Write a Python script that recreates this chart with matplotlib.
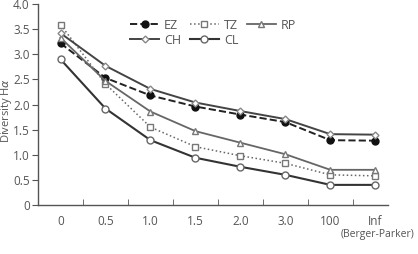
import numpy as np
import matplotlib.pyplot as plt
from matplotlib.ticker import FixedLocator, NullFormatter

plt.rcParams['font.family'] = ['Open Sans', 'DejaVu Sans']

# Data
orders = ["0", "0.5", "1.0", "1.5", "2.0", "3.0", "100", "Inf"]
ez = [3.22, 2.53, 2.18, 1.96, 1.80, 1.65, 1.29, 1.28]
tz = [3.59, 2.41, 1.55, 1.16, 0.98, 0.83, 0.60, 0.58]
rp = [3.33, 2.47, 1.86, 1.47, 1.24, 1.01, 0.70, 0.70]
ch = [3.42, 2.77, 2.31, 2.04, 1.87, 1.71, 1.41, 1.40]
cl = [2.90, 1.92, 1.29, 0.94, 0.76, 0.60, 0.40, 0.40]

grey = '#555555'
x = np.arange(len(orders))

fig = plt.figure(figsize=(4.18, 2.54), dpi=100)
ax = fig.add_axes([0.091, 0.193, 0.837, 0.791])

h_ez, = ax.plot(x, ez, linestyle='--', color='#222222', lw=1.4, marker='o', ms=5,
                mfc='#111111', mec='#111111', label='EZ')
h_tz, = ax.plot(x, tz, linestyle=':', color='#666666', lw=1.1, marker='s', ms=5,
                mfc='white', mec='#777777', label='TZ')
h_rp, = ax.plot(x, rp, linestyle='-', color='#666666', lw=1.3, marker='^', ms=5,
                mfc='white', mec='#777777', label='RP')
h_ch, = ax.plot(x, ch, linestyle='-', color='#444444', lw=1.4, marker='D', ms=3.5,
                mfc='white', mec='#888888', label='CH')
h_cl, = ax.plot(x, cl, linestyle='-', color='#333333', lw=1.5, marker='o', ms=5,
                mfc='white', mec='#666666', label='CL')

ax.set_xlim(-0.5, 7.28)
ax.set_ylim(0, 4.0)
ax.set_yticks([0, 0.5, 1.0, 1.5, 2.0, 2.5, 3.0, 3.5, 4.0])
ax.set_yticklabels(['0', '0.5', '1.0', '1.5', '2.0', '2.5', '3.0', '3.5', '4.0'])
ax.set_xticks(x)
ax.set_xticklabels(orders)
ax.xaxis.set_minor_locator(FixedLocator(np.arange(-0.5, 7, 1.0)))
ax.xaxis.set_minor_formatter(NullFormatter())
ax.tick_params(axis='x', which='major', length=0, pad=7, labelsize=8.5, colors=grey)
ax.tick_params(axis='x', which='minor', direction='in', length=4, color=grey)
ax.tick_params(axis='y', length=4, pad=2, labelsize=8.5, colors=grey)

for s in ['top', 'right']:
    ax.spines[s].set_visible(False)
for s in ['left', 'bottom']:
    ax.spines[s].set_color(grey)
    ax.spines[s].set_linewidth(1.0)

ax.set_ylabel(r'Diversity H$\alpha$', fontsize=8, color=grey, va='center')
ax.yaxis.set_label_coords(-0.09, 0.47)
fig.text(0.902, 0.078, '(Berger-Parker)', fontsize=7.5, color=grey,
         ha='center', va='center')

# row-wise legend: EZ TZ RP / CH CL
ax.legend([h_ez, h_ch, h_tz, h_cl, h_rp], ['EZ', 'CH', 'TZ', 'CL', 'RP'],
          ncol=3, loc='upper left', bbox_to_anchor=(0.285, 0.97),
          bbox_transform=fig.transFigure, frameon=False, fontsize=9,
          handlelength=2.3, handletextpad=0.4, columnspacing=0.7,
          labelspacing=0.15, labelcolor=grey)

fig.savefig('out.png', dpi=100)
